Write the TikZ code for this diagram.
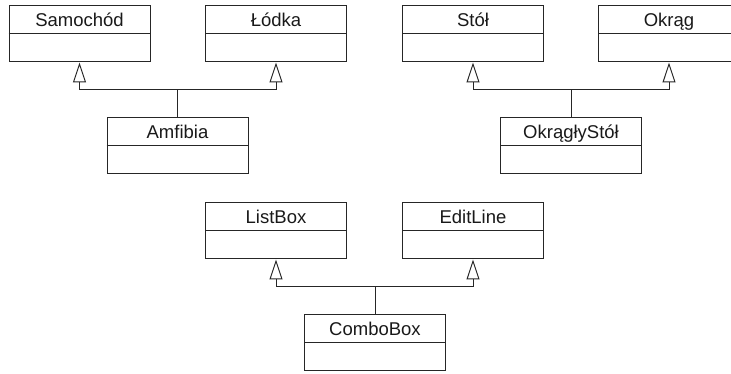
\documentclass[tikz,border=0pt]{standalone}
\usepackage{fontspec}
\setmainfont{Liberation Sans}
\usetikzlibrary{arrows.meta}

\tikzset{
  x=1pt, y=1pt,
  umlline/.style={line width=1pt, draw=black!85},
  classbox/.style={umlline, minimum width=141pt, minimum height=56pt, inner sep=0pt},
  classname/.style={font=\fontsize{18.5}{20}\selectfont, text height=13.2pt,
    text depth=0pt, inner sep=0pt, text=black!90},
  inherit/.style={umlline, -{Triangle[open, length=20pt, width=13pt]}},
}

% class box: name, position, title (title compartment above an empty one)
\newcommand\umlclass[3]{%
  \node[classbox] (#1) at (#2) {};
  \draw[umlline] ([yshift=-28pt]#1.north west) -- ([yshift=-28pt]#1.north east);
  \node[classname] (#1-title) at ([yshift=-14pt]#1.north) {#3};
}

\begin{document}
\begin{tikzpicture}
\useasboundingbox (0,0) rectangle (731,374);

% vehicles
\umlclass{samochod}{79.5,340}{Samochód}
\umlclass{lodka}{276,340}{Łódka}
\umlclass{amfibia}{177.5,228}{Amfibia}

% furniture
\umlclass{stol}{473,340}{Stół}
\umlclass{okrag}{669,340}{Okrąg}
\umlclass{okraglystol}{571,228}{OkrągłyStół}

% widgets
\umlclass{listbox}{276,143}{ListBox}
\umlclass{editline}{473,143}{EditLine}
\umlclass{combobox}{375,31}{ComboBox}

% generalisations
\draw[inherit] (amfibia.north) -- ++(0,28) -| (samochod.south);
\draw[inherit] (amfibia.north) -- ++(0,28) -| (lodka.south);
\draw[inherit] (okraglystol.north) -- ++(0,28) -| (stol.south);
\draw[inherit] (okraglystol.north) -- ++(0,28) -| (okrag.south);
\draw[inherit] (combobox.north) -- ++(0,28) -| (listbox.south);
\draw[inherit] (combobox.north) -- ++(0,28) -| (editline.south);
\end{tikzpicture}
\end{document}
